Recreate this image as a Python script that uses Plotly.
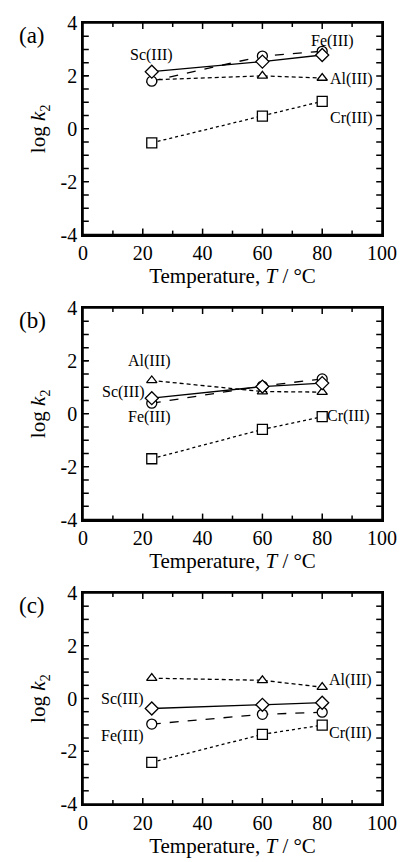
import plotly.graph_objects as go

temps = [23, 60, 80]

# panel (a)
a_sc = [2.16, 2.54, 2.79]
a_fe = [1.80, 2.75, 2.93]
a_al = [1.85, 2.00, 1.92]
a_cr = [-0.53, 0.48, 1.04]
# panel (b)
b_sc = [0.59, 1.03, 1.16]
b_fe = [0.40, 1.05, 1.32]
b_al = [1.26, 0.84, 0.82]
b_cr = [-1.70, -0.59, -0.11]
# panel (c)
c_sc = [-0.38, -0.24, -0.16]
c_fe = [-0.97, -0.60, -0.52]
c_al = [0.77, 0.69, 0.43]
c_cr = [-2.42, -1.36, -1.01]

panel_names = ["(a)", "(b)", "(c)"]

x_tick_vals = [0, 20, 40, 60, 80, 100]
y_tick_vals = [-4, -2, 0, 2, 4]
y_tick_text = ["-4", "-2", "0", "2", "4"]

# tick mark positions (axis values)
x_major_ticks = [20, 40, 60, 80]
x_minor_ticks = [10, 30, 50, 70, 90]
y_ticks_all = [-3.5, -3, -2.5, -2, -1.5, -1, -0.5, 0, 0.5, 1, 1.5, 2, 2.5, 3, 3.5]

# label positions (data coords) per panel: (text, x, y)
labels = [
    [("Sc(III)", 22.9, 2.78), ("Fe(III)", 83.6, 3.32), ("Al(III)", 89.8, 1.87), ("Cr(III)", 89.8, 0.39)],
    [("Al(III)", 22.1, 1.98), ("Sc(III)", 13.5, 0.84), ("Fe(III)", 22.1, -0.13), ("Cr(III)", 88.9, -0.09)],
    [("Al(III)", 89.4, 0.69), ("Sc(III)", 13.2, -0.03), ("Fe(III)", 13.2, -1.41), ("Cr(III)", 89.4, -1.32)],
]

series = [
    (a_sc, a_fe, a_al, a_cr),
    (b_sc, b_fe, b_al, b_cr),
    (c_sc, c_fe, c_al, c_cr),
]

FONT = "Liberation Serif"
W, H = 409, 862
L, R, T, B = 83, 16, 23, 58
plot_w = W - L - R
plot_h = H - T - B
panel_px = 211.6
period = 285

fig = go.Figure()

styles = [
    ("Sc", "solid", "diamond", 10),
    ("Fe", "dash", "circle", 10),
    ("Al", "4px,3px", "triangle-up", 9),
    ("Cr", "dot", "square", 10),
]
draw_order = [3, 2, 1, 0]

shapes = []
TK = dict(color="black", width=1.5)
for p in range(3):
    xa = "x" if p == 0 else f"x{p+1}"
    ya = "y" if p == 0 else f"y{p+1}"
    for k in draw_order:
        name, dash, sym, ms = styles[k]
        fig.add_trace(go.Scatter(
            x=temps, y=series[p][k], mode="lines+markers",
            xaxis=xa, yaxis=ya, showlegend=False,
            line=dict(color="black", width=1.3, dash=dash),
            marker=dict(symbol=sym, size=ms, color="white",
                        line=dict(color="black", width=1.3)),
        ))
    for (txt, lx, ly) in labels[p]:
        fig.add_annotation(x=lx, y=ly, xref=xa, yref=ya, text=txt, showarrow=False,
                           font=dict(family=FONT, size=16, color="black"))
    fig.add_annotation(x=-0.22, y=1.01, xref=f"{xa} domain", yref=f"{ya} domain",
                       text=panel_names[p], showarrow=False,
                       font=dict(family=FONT, size=23, color="black"))
    # frame
    shapes.append(dict(type="rect", xref=f"{xa} domain", yref=f"{ya} domain",
                       x0=0, x1=1, y0=0, y1=1, line=dict(color="black", width=1.6),
                       fillcolor="rgba(0,0,0,0)", layer="above"))
    # x ticks (bottom and top, inside)
    for v, ln in [(t, 6) for t in x_major_ticks] + [(t, 4) for t in x_minor_ticks]:
        f = ln / panel_px
        shapes.append(dict(type="line", xref=xa, yref=f"{ya} domain", x0=v, x1=v, y0=0, y1=f,
                           line=TK, layer="above"))
        shapes.append(dict(type="line", xref=xa, yref=f"{ya} domain", x0=v, x1=v, y0=1 - f, y1=1,
                           line=TK, layer="above"))
    # y ticks (left and right, inside)
    fx = 6 / plot_w
    for v in y_ticks_all:
        shapes.append(dict(type="line", xref=f"{xa} domain", yref=ya, x0=0, x1=fx, y0=v, y1=v,
                           line=TK, layer="above"))
        shapes.append(dict(type="line", xref=f"{xa} domain", yref=ya, x0=1 - fx, x1=1, y0=v, y1=v,
                           line=TK, layer="above"))

layout = dict(width=W, height=H, margin=dict(l=L, r=R, t=T, b=B),
              paper_bgcolor="white", plot_bgcolor="white", showlegend=False,
              font=dict(family=FONT, color="black"), shapes=shapes)

for p in range(3):
    top = min(1.0, 1 - (p * period) / plot_h)
    bot = max(0.0, 1 - (p * period + panel_px) / plot_h)
    xk = "xaxis" if p == 0 else f"xaxis{p+1}"
    yk = "yaxis" if p == 0 else f"yaxis{p+1}"
    ya = "y" if p == 0 else f"y{p+1}"
    xa = "x" if p == 0 else f"x{p+1}"
    layout[xk] = dict(
        domain=[0, 1], anchor=ya, range=[0, 100], tickmode="array", tickvals=x_tick_vals,
        ticks="inside", ticklen=6, tickwidth=1.3, tickcolor="black",
        showline=True, linecolor="black", linewidth=1.6, mirror=True,
        showgrid=False, zeroline=False,
        tickfont=dict(family=FONT, size=20, color="black"),
        title=dict(text="Temperature, <i>T</i> / °C", standoff=2,
                   font=dict(family=FONT, size=21, color="black")),
    )
    layout[yk] = dict(
        domain=[bot, top], anchor=xa, range=[-4, 4], tickmode="array",
        tickvals=y_tick_vals, ticktext=y_tick_text,
        ticks="inside", ticklen=6, tickwidth=1.3, tickcolor="black",
        showline=True, linecolor="black", linewidth=1.6, mirror=True,
        showgrid=False, zeroline=False,
        tickfont=dict(family=FONT, size=20, color="black"),
        title=dict(text="log <i>k</i><sub>2</sub>", standoff=9,
                   font=dict(family=FONT, size=21, color="black")),
    )

fig.update_layout(**layout)
fig.write_html("out.html")
